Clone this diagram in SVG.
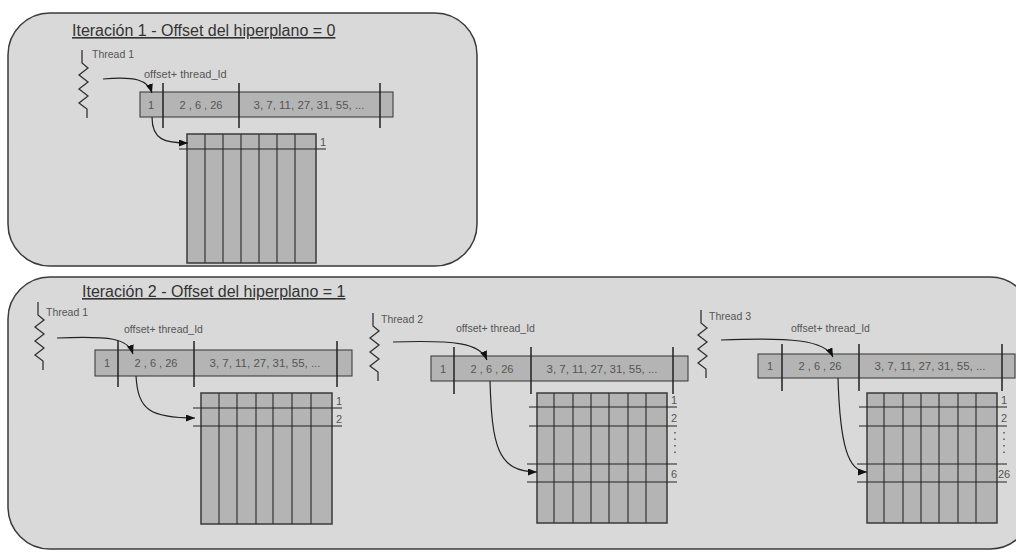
<svg xmlns="http://www.w3.org/2000/svg" xmlns:xlink="http://www.w3.org/1999/xlink" width="1016" height="552" viewBox="0 0 1016 552">
  <style>
    text { font-family: "Liberation Sans", Arial, sans-serif; }
    .panel { fill: #d9d9d9; stroke: #3a3a3a; stroke-width: 1.5; }
    .title { font-size: 16px; fill: #333; text-decoration: underline; }
    .lbl { font-size: 10.5px; fill: #555; }
    .val { font-size: 11px; fill: #555; text-anchor: middle; }
    .rowlbl { font-size: 11px; fill: #555; }
    .bar { fill: #b4b4b4; stroke: #333; stroke-width: 1; }
    .div { stroke: #222; stroke-width: 1.5; }
    .grid { fill: #b4b4b4; stroke: #3a3a3a; stroke-width: 1.5; }
    .col { stroke: #333; stroke-width: 1.2; }
    .row { stroke: #222; stroke-width: 1.2; }
    .dots { stroke: #555; stroke-width: 1.5; stroke-dasharray: 1.5 5; }
    .thread { fill: none; stroke: #333; stroke-width: 1.3; }
    .conn { fill: none; stroke: #222; stroke-width: 1.2; marker-end: url(#ah); }
  </style>
  <defs>
    <marker id="ah" markerUnits="userSpaceOnUse" markerWidth="10" markerHeight="8" refX="9" refY="3.5" orient="auto">
      <path d="M0,0 L9,3.5 L0,7 z" fill="#111"/>
    </marker>
    <!-- thread symbol: short stem, zigzag, short tail -->
    <path id="zig" class="thread" d="M0,0 v13 l6,5 l-9,7 l9,7 l-9,7 l9,7 l-9,7 l8,6 v9"/>
  </defs>

  <!-- panels -->
  <g id="iter1">
    <rect class="panel" x="8" y="13" width="469" height="253" rx="42" ry="42"/>
    <text class="title" x="72" y="36">Iteración 1 - Offset del hiperplano = 0</text>
  </g>
  <g id="iter2">
    <rect class="panel" x="8" y="277" width="1024" height="272" rx="42" ry="42"/>
    <text class="title" x="82" y="297">Iteración 2 - Offset del hiperplano = 1</text>
  </g>

  <!-- iteration 1, thread 1 -->
  <g id="it1-thread1">
    <use xlink:href="#zig" x="82" y="50"/>
    <text class="lbl" x="92" y="58">Thread 1</text>
    <text class="lbl" x="144" y="78" style="font-size:11px">offset+ thread_Id</text>
  </g>
  <g id="it1-array">
    <rect class="bar" x="140" y="92" width="253" height="25"/>
    <line class="div" x1="163" y1="83" x2="163" y2="128"/>
    <line class="div" x1="239" y1="83" x2="239" y2="128"/>
    <line class="div" x1="380" y1="83" x2="380" y2="128"/>
    <text class="val" x="151" y="108.5">1</text>
    <text class="val" x="201" y="108.5">2 , 6 , 26</text>
    <text class="val" x="309" y="108.5" style="font-size:11.5px">3, 7, 11, 27, 31, 55, ...</text>
  </g>
  <g id="it1-grid">
    <rect class="grid" x="187" y="134" width="129" height="129"/>
    <line class="col" x1="205" y1="134" x2="205" y2="263"/>
    <line class="col" x1="223" y1="134" x2="223" y2="263"/>
    <line class="col" x1="241" y1="134" x2="241" y2="263"/>
    <line class="col" x1="259" y1="134" x2="259" y2="263"/>
    <line class="col" x1="277" y1="134" x2="277" y2="263"/>
    <line class="col" x1="295" y1="134" x2="295" y2="263"/>
    <line class="row" x1="179" y1="149" x2="326" y2="149"/>
    <text class="rowlbl" x="320" y="146">1</text>
  </g>

  <!-- iteration 2, thread 1 -->
  <g id="it2-thread1">
    <use xlink:href="#zig" x="38" y="302"/>
    <text class="lbl" x="46" y="316">Thread 1</text>
    <text class="lbl" x="124" y="333">offset+ thread_Id</text>
  </g>
  <g id="it2-array1">
    <rect class="bar" x="95" y="350" width="257" height="26"/>
    <line class="div" x1="118" y1="341" x2="118" y2="387"/>
    <line class="div" x1="194" y1="341" x2="194" y2="387"/>
    <line class="div" x1="337" y1="341" x2="337" y2="387"/>
    <text class="val" x="107" y="367">1</text>
    <text class="val" x="156" y="367">2 , 6 , 26</text>
    <text class="val" x="265" y="367" style="font-size:11.5px">3, 7, 11, 27, 31, 55, ...</text>
  </g>
  <g id="it2-grid1">
    <rect class="grid" x="201" y="393" width="131" height="131"/>
    <line class="col" x1="219" y1="393" x2="219" y2="524"/>
    <line class="col" x1="237" y1="393" x2="237" y2="524"/>
    <line class="col" x1="256" y1="393" x2="256" y2="524"/>
    <line class="col" x1="273" y1="393" x2="273" y2="524"/>
    <line class="col" x1="292" y1="393" x2="292" y2="524"/>
    <line class="col" x1="311" y1="393" x2="311" y2="524"/>
    <line class="row" x1="193" y1="408" x2="342" y2="408"/>
    <line class="row" x1="193" y1="426" x2="342" y2="426"/>
    <text class="rowlbl" x="336" y="405">1</text>
    <text class="rowlbl" x="336" y="423">2</text>
  </g>

  <!-- iteration 2, thread 2 -->
  <g id="it2-thread2">
    <use xlink:href="#zig" x="373" y="313"/>
    <text class="lbl" x="381" y="323">Thread 2</text>
    <text class="lbl" x="456" y="332">offset+ thread_Id</text>
  </g>
  <g id="it2-array2">
    <rect class="bar" x="431" y="356" width="257" height="25"/>
    <line class="div" x1="454" y1="347" x2="454" y2="394"/>
    <line class="div" x1="531" y1="347" x2="531" y2="394"/>
    <line class="div" x1="673" y1="347" x2="673" y2="394"/>
    <text class="val" x="443" y="372.5">1</text>
    <text class="val" x="492" y="372.5">2 , 6 , 26</text>
    <text class="val" x="602" y="372.5" style="font-size:11.5px">3, 7, 11, 27, 31, 55, ...</text>
  </g>
  <g id="it2-grid2">
    <rect class="grid" x="537" y="393" width="130" height="130"/>
    <line class="col" x1="554" y1="393" x2="554" y2="523"/>
    <line class="col" x1="573" y1="393" x2="573" y2="523"/>
    <line class="col" x1="591" y1="393" x2="591" y2="523"/>
    <line class="col" x1="609" y1="393" x2="609" y2="523"/>
    <line class="col" x1="628" y1="393" x2="628" y2="523"/>
    <line class="col" x1="646" y1="393" x2="646" y2="523"/>
    <line class="row" x1="529" y1="407" x2="677" y2="407"/>
    <line class="row" x1="529" y1="426" x2="677" y2="426"/>
    <line class="row" x1="527" y1="464" x2="677" y2="464"/>
    <line class="row" x1="527" y1="482" x2="677" y2="482"/>
    <text class="rowlbl" x="671" y="404">1</text>
    <text class="rowlbl" x="671" y="422">2</text>
    <line class="dots" x1="675" y1="432" x2="675" y2="456"/>
    <text class="rowlbl" x="671" y="478">6</text>
  </g>

  <!-- iteration 2, thread 3 -->
  <g id="it2-thread3">
    <use xlink:href="#zig" x="701" y="310"/>
    <text class="lbl" x="709" y="320">Thread 3</text>
    <text class="lbl" x="791" y="332">offset+ thread_Id</text>
  </g>
  <g id="it2-array3">
    <rect class="bar" x="758" y="354" width="257" height="24"/>
    <line class="div" x1="782" y1="344" x2="782" y2="391"/>
    <line class="div" x1="859" y1="344" x2="859" y2="391"/>
    <line class="div" x1="1002" y1="344" x2="1002" y2="391"/>
    <text class="val" x="770" y="370">1</text>
    <text class="val" x="820" y="370">2 , 6 , 26</text>
    <text class="val" x="930" y="370" style="font-size:11.5px">3, 7, 11, 27, 31, 55, ...</text>
  </g>
  <g id="it2-grid3">
    <rect class="grid" x="867" y="393" width="130" height="130"/>
    <line class="col" x1="884" y1="393" x2="884" y2="523"/>
    <line class="col" x1="903" y1="393" x2="903" y2="523"/>
    <line class="col" x1="921" y1="393" x2="921" y2="523"/>
    <line class="col" x1="939" y1="393" x2="939" y2="523"/>
    <line class="col" x1="958" y1="393" x2="958" y2="523"/>
    <line class="col" x1="976" y1="393" x2="976" y2="523"/>
    <line class="row" x1="859" y1="407" x2="1007" y2="407"/>
    <line class="row" x1="859" y1="426" x2="1007" y2="426"/>
    <line class="row" x1="857" y1="464" x2="1007" y2="464"/>
    <line class="row" x1="857" y1="482" x2="1007" y2="482"/>
    <text class="rowlbl" x="1001" y="404">1</text>
    <text class="rowlbl" x="1001" y="422">2</text>
    <line class="dots" x1="1004" y1="432" x2="1004" y2="456"/>
    <text class="rowlbl" x="998" y="478">26</text>
  </g>

  <!-- connectors -->
  <g id="connectors">
    <path class="conn" d="M103,79 C135,76 148,80 152,93"/>
    <path class="conn" d="M152,117 C152,140 165,143 188,143"/>
    <path class="conn" d="M57,338 C110,336 128,338 133,354"/>
    <path class="conn" d="M136,376 C138,410 150,418 195,418"/>
    <path class="conn" d="M393,342 C455,340 480,343 487,360"/>
    <path class="conn" d="M490,381 C492,445 497,472 537,472"/>
    <path class="conn" d="M721,340 C790,337 825,340 833,357"/>
    <path class="conn" d="M838,378 C840,445 848,472 867,472"/>
  </g>
</svg>
